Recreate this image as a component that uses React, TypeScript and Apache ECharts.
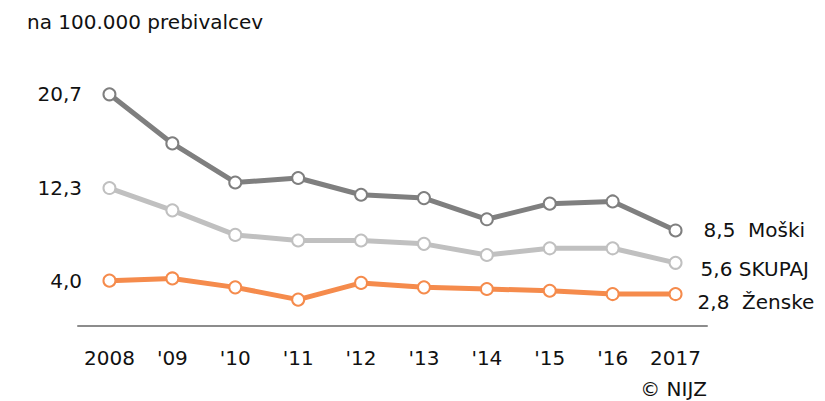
import React, { useEffect, useRef } from "react";
import * as echarts from "echarts";

const categories = ["2008", "'09", "'10", "'11", "'12", "'13", "'14", "'15", "'16", "2017"];
const moski = [20.7, 16.3, 12.8, 13.2, 11.7, 11.4, 9.5, 10.9, 11.1, 8.5];
const skupaj = [12.3, 10.3, 8.1, 7.6, 7.6, 7.3, 6.3, 6.9, 6.9, 5.6];
const zenske = [4.0, 4.2, 3.4, 2.3, 3.8, 3.4, 3.25, 3.1, 2.8, 2.8];
const yTickValues = [4.0, 12.3, 20.7];
const titleText = "na 100.000 prebivalcev";
const sourceText = "© NIJZ";

const FONT = "DejaVu Sans";
const FS = 20;
const fmt = (v: number) => v.toFixed(1).replace(".", ",");

export default function App() {
  const ref = useRef<HTMLDivElement>(null);
  useEffect(() => {
    if (!ref.current) return;
    const chart = echarts.init(ref.current, undefined, { renderer: "svg" });
    const mkSeries = (name: string, data: number[], color: string, offset: number[], gap: string) => ({
      name,
      type: "line",
      data,
      symbol: "circle",
      symbolSize: 12,
      showAllSymbol: true,
      lineStyle: { color, width: 5 },
      itemStyle: { color: "#ffffff", borderColor: color, borderWidth: 2 },
      endLabel: {
        show: true,
        offset,
        color: "#111111",
        fontFamily: FONT,
        fontSize: FS,
        formatter: (p: any) => `${fmt(p.value)}${gap}${name}`,
      },
      emphasis: { disabled: true },
      z: 2,
    });
    chart.setOption({
      animation: false,
      textStyle: { fontFamily: FONT },
      grid: { left: 78, right: 118, top: 57.5, bottom: 75.7 },
      xAxis: {
        type: "category",
        data: categories,
        boundaryGap: true,
        axisLine: { show: true, lineStyle: { color: "#8c8c8c", width: 2 } },
        axisTick: { show: false },
        axisLabel: { color: "#111111", fontFamily: FONT, fontSize: FS, margin: 23, interval: 0 },
        splitLine: { show: false },
      },
      yAxis: {
        type: "value",
        min: 0,
        max: 24,
        axisLine: { show: false },
        axisTick: { show: false },
        splitLine: { show: false },
        axisLabel: {
          customValues: yTickValues,
          color: "#111111",
          fontFamily: FONT,
          fontSize: FS,
          margin: -4,
          formatter: (v: number) => fmt(v),
        },
      },
      graphic: [
        {
          type: "text",
          left: 27,
          top: 12,
          style: { text: titleText, fontFamily: FONT, fontSize: FS, fill: "#111111" },
        },
        {
          type: "text",
          right: 118,
          top: 379,
          style: { text: sourceText, fontFamily: FONT, fontSize: FS, fill: "#111111" },
        },
      ],
      series: [
        mkSeries("Moški", moski, "#7f7f7f", [20, 0], "  "),
        mkSeries("SKUPAJ", skupaj, "#c0c0c0", [17, 6], " "),
        mkSeries("Ženske", zenske, "#f58b4c", [14, 8], "  "),
      ],
    });
    return () => chart.dispose();
  }, []);
  return <div ref={ref} style={{ position: "absolute", left: 0, top: 0, width: 825, height: 401 }} />;
}
